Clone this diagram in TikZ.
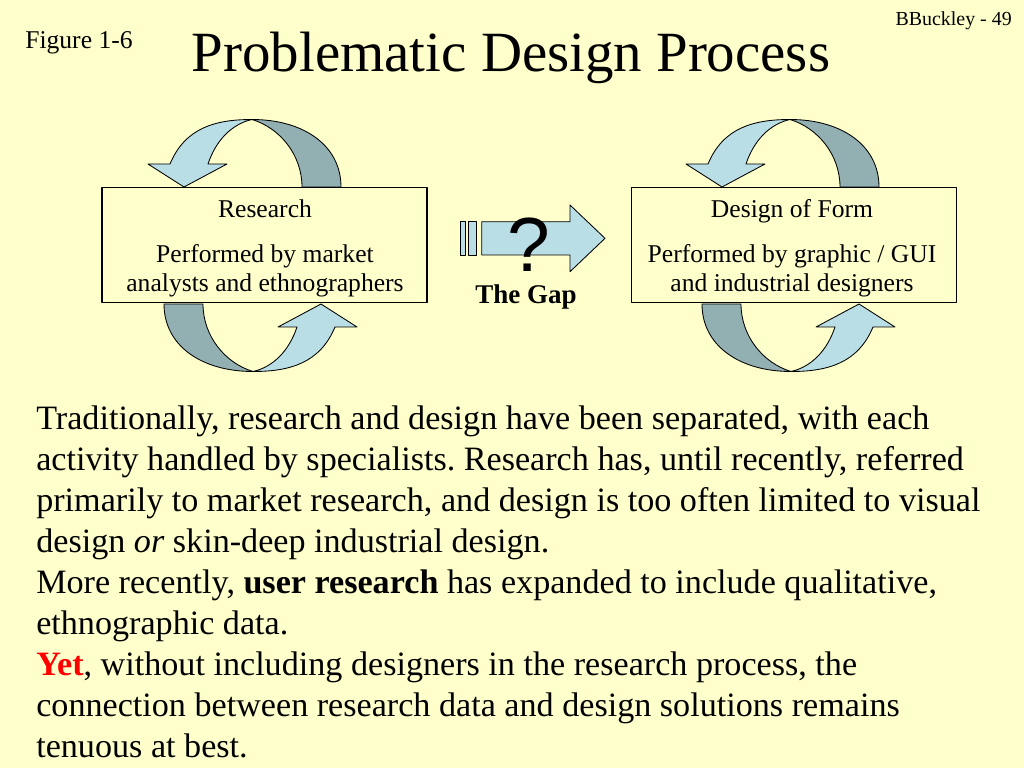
\documentclass[tikz,border=0pt]{standalone}
\usepackage{fontspec}
\setmainfont{Liberation Serif}
\newfontfamily\qmarkfont{Liberation Sans}
\usetikzlibrary{calc}
\frenchspacing
\definecolor{slidebg}{HTML}{FFFFCC}
\definecolor{arrowlite}{HTML}{BADEE5}
\definecolor{arrowdark}{HTML}{92AFB1}
\newcommand\pxu{0.703125pt}
\tikzset{box/.style={draw,line width=0.8pt,minimum width=325*\pxu,minimum height=115*\pxu,inner sep=0pt}}
\tikzset{l/.style={font=\fontsize{18}{21}\selectfont,inner sep=0pt,align=center}}
\tikzset{cyclearrow/.pic={
  \filldraw[fill=arrowlite,line width=0.6pt] (170,164) .. controls (185,128) and (215,119.5) .. (252,119.5)
    .. controls (232,124) and (216,140) .. (208,164) -- (227,164) -- (184,187) -- (148,164) -- cycle;
  \filldraw[fill=arrowdark,line width=0.6pt] (252,119.5) .. controls (303,119.5) and (341,145) .. (341,187)
    -- (302,187) .. controls (302,155) and (280,128) .. (252,119.5) -- cycle;}}
\begin{document}
\begin{tikzpicture}[x=\pxu,y=-\pxu,line join=round]
  \fill[slidebg] (0,0) rectangle (1024,768);
  \useasboundingbox (0,0) rectangle (1024,768);
  \node[anchor=base,inner sep=0pt,font=\fontsize{40}{48}\selectfont] (title) at (511,72) {Problematic Design Process};
  \node[anchor=base west,inner sep=0pt,font=\fontsize{18}{21}\selectfont] (fig) at (25,49) {Figure 1-6};
  \node[anchor=base east,inner sep=0pt,font=\fontsize{14}{17}\selectfont] (page) at (1012,26) {BBuckley - 49};
  % arrows going round the two boxes
  \pic at (0,0) {cyclearrow};
  \pic[rotate=180] at (505,491) {cyclearrow};
  \pic at (538,0) {cyclearrow};
  \pic[rotate=180] at (1043,491) {cyclearrow};
  \node[box] (res) at (264.5,245) {};
  \node[box] (des) at (793.7,245) {};
  \node[l,anchor=base] (restitle) at (265,218) {Research};
  \node[l,anchor=base] (restext) at (265,292) {Performed by market\\analysts and ethnographers};
  \node[l,anchor=base] (destitle) at (792,218) {Design of Form};
  \node[l,anchor=base] (destext) at (792,292) {Performed by graphic / GUI\\and industrial designers};
  % the gap
  \filldraw[fill=arrowlite,line width=0.6pt] (460,221.7) rectangle (465,255) (468.3,221.7) rectangle (476,255);
  \filldraw[fill=arrowlite,line width=0.6pt] (481.7,221.7) -- (570,221.7) -- (570,205) -- (605,238.35)
    -- (570,271.7) -- (570,255) -- (481.7,255) -- cycle;
  \node[anchor=base,inner sep=0pt,font=\qmarkfont\fontsize{54}{60}\selectfont] (q) at (529,272) {?};
  \node[anchor=base,inner sep=0pt,font=\bfseries\fontsize{19}{22}\selectfont] (gap) at (526,304) {The Gap};
  \node[anchor=base west,inner sep=0pt,align=left,font=\fontsize{24}{28.76}\selectfont] (body) at (36,757)
    {Traditionally, research and design have been separated, with each\\
     activity handled by specialists. Research has, until recently, referred\\
     primarily to market research, and design is too often limited to visual\\
     design \textit{or} skin-deep industrial design.\\
     More recently, \textbf{user research} has expanded to include qualitative,\\
     ethnographic data.\\
     \textcolor{red}{\textbf{Yet}}, without including designers in the research process, the\\
     connection between research data and design solutions remains\\
     tenuous at best.};
\end{tikzpicture}
\end{document}
